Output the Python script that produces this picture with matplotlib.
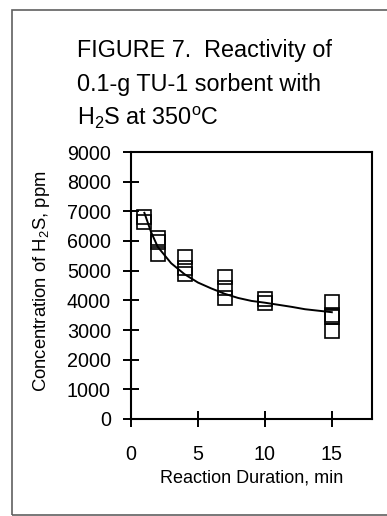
import matplotlib
matplotlib.use("Agg")
import matplotlib.pyplot as plt
from matplotlib.patches import Rectangle

plt.rcParams['font.family'] = ['Liberation Sans', 'DejaVu Sans']
plt.rcParams['mathtext.fontset'] = 'custom'
plt.rcParams['mathtext.rm'] = 'Liberation Sans'
plt.rcParams['mathtext.it'] = 'Liberation Sans:italic'

# Measured data (reaction duration, min -> H2S concentration, ppm)
time_min = [1, 1, 2, 2, 2, 4, 4, 4, 7, 7, 7, 10, 10, 15, 15, 15, 15]
conc_ppm = [6800, 6650, 6100, 5950, 5550, 5450, 5100, 4900,
            4770, 4420, 4070, 4050, 3900, 3950, 3500, 3450, 2950]

# Fitted trend curve
fit_time = [1, 1.5, 2, 3, 4, 5, 6, 7, 8, 9, 10, 11, 12, 13, 14, 15]
fit_conc = [6950, 6300, 5800, 5250, 4880, 4600, 4400, 4220, 4080, 3980,
            3920, 3850, 3780, 3700, 3650, 3600]

x_ticks = [0, 5, 10, 15]
y_ticks = [0, 1000, 2000, 3000, 4000, 5000, 6000, 7000, 8000, 9000]

title_lines = ["FIGURE 7.  Reactivity of",
               "0.1-g TU-1 sorbent with",
               r"H$_2$S at 350$^\mathrm{o}$C"]

W, H = 387, 516
fig = plt.figure(figsize=(W / 100, H / 100), dpi=100)
fig.patch.set_facecolor('white')

# outer frame
fig.patches.append(Rectangle((12 / W, 1.5 / H), 1.2, 1 - 11.5 / H,
                             transform=fig.transFigure, fill=False,
                             edgecolor='#606060', linewidth=1.2, zorder=0))

ax = fig.add_axes([131 / W, 1 - 419 / H, (372 - 131) / W, (419 - 152) / H])
ax.plot(fit_time, fit_conc, color='black', linewidth=1.4, zorder=2)
ax.plot(time_min, conc_ppm, linestyle='none', marker='s', markersize=9.5,
        markerfacecolor='none', markeredgecolor='black',
        markeredgewidth=1.2, zorder=3)

ax.set_xlim(0, 18)
ax.set_ylim(0, 9000)
ax.set_xticks(x_ticks)
ax.set_yticks(y_ticks)
ax.set_xticklabels([str(v) for v in x_ticks])
ax.set_yticklabels([str(v) for v in y_ticks])
ax.tick_params(axis='both', direction='inout', length=11, width=1.4,
               labelsize=14.2, colors='black')
ax.tick_params(axis='y', pad=9)
ax.tick_params(axis='x', pad=13)
for s in ax.spines.values():
    s.set_linewidth(1.5)
    s.set_color('black')

ax.set_xlabel("Reaction Duration, min", fontsize=13, labelpad=4)
fig.text(42 / W, 1 - 281 / H, r"Concentration of H$_2$S, ppm",
         rotation=90, ha='center', va='center', fontsize=13.3)

for i, line in enumerate(title_lines):
    fig.text(77 / W, 1 - (51 + 33.5 * i) / H, line, ha='left',
             va='center', fontsize=16.8)

fig.savefig("out.png", dpi=100)
